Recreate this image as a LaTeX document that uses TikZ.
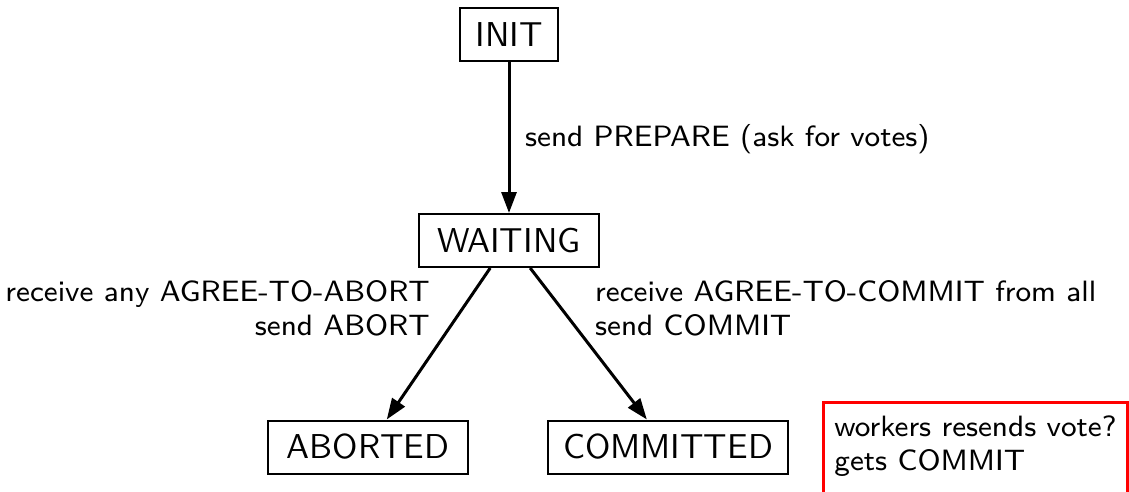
\documentclass[tikz,border=0pt]{standalone}
\usepackage{fontspec}
\newfontfamily\smallsans{lmsans8-regular}[Extension=.otf]
\newfontfamily\statesans{lmsans10-regular}[Extension=.otf]
\usetikzlibrary{arrows.meta}
\begin{document}
\begin{tikzpicture}[x=1pt,y=1pt,
  state/.style={draw, line width=2pt, minimum height=53pt, inner xsep=15pt,
    font=\statesans\fontsize{34.5}{41}\selectfont},
  trans/.style={line width=3pt, -{Triangle[length=21pt,width=15pt]}},
  lbl/.style={inner sep=0pt, font=\smallsans\fontsize{29.4}{34.5}\selectfont},
  notebox/.style={draw=red, line width=3pt, inner xsep=10pt, inner ysep=13pt,
    minimum width=304pt, align=left, text depth=60pt,
    font=\smallsans\fontsize{29.4}{34.5}\selectfont}]
\useasboundingbox (0,0) rectangle (1129,491);
\clip (0,0) rectangle (1129,491);

% states of the coordinator
\node[state] (init) at (509,456.5) {INIT};
\node[state, minimum width=180pt] (waiting) at (509,250.5) {WAITING};
\node[state, minimum width=200pt] (aborted) at (368,44) {ABORTED};
\node[state] (committed) at (668,44) {COMMITTED};

% transitions
\draw[trans] (init) -- (waiting);
\draw[trans] (waiting) -- (aborted);
\draw[trans] (waiting) -- (committed);

% transition labels
\node[lbl, anchor=base west] (lprep) at (525,344.5) {send PREPARE (ask for votes)};
\node[lbl, anchor=north east, align=right] (labort) at (430,211)
  {receive any AGREE-TO-ABORT\\send ABORT};
\node[lbl, anchor=north west, align=left] (lcommit) at (595,211)
  {receive AGREE-TO-COMMIT from all\\send COMMIT};

% side note
\node[notebox, anchor=north west] (note) at (822,90)
  {workers resends vote?\\gets COMMIT};
\end{tikzpicture}
\end{document}
